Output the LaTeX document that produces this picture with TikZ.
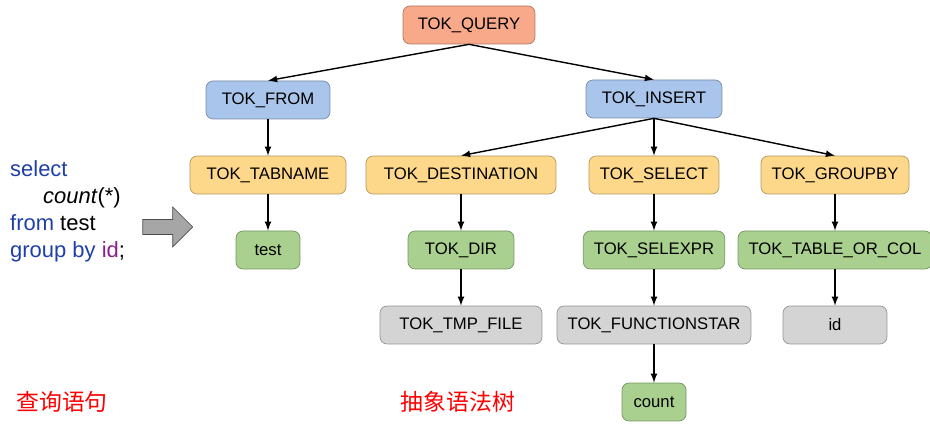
\documentclass[tikz,border=0pt]{standalone}
\usepackage{fontspec}
\setmainfont{Liberation Sans}
\newfontfamily\cjk{Noto Sans CJK SC}
\usetikzlibrary{shapes,arrows,positioning,calc}

\definecolor{qorange}{HTML}{F7A98A}
\definecolor{qblue}{HTML}{A9C5EB}
\definecolor{qyellow}{HTML}{FDD88A}
\definecolor{qgreen}{HTML}{A9D08E}
\definecolor{qgray}{HTML}{D4D4D4}
\definecolor{kwblue}{HTML}{1F3FA8}
\definecolor{kwpurple}{HTML}{8B1E8B}

\tikzset{
    tok/.style={draw=#1!70!black, fill=#1, rounded corners=4pt, minimum height=0.76cm,
        inner xsep=6pt, font=\fontsize{9.5}{11}\selectfont},
    link/.style={->, >=latex, thick, black}
}

\begin{document}
\begin{tikzpicture}[x=0.02cm, y=-0.02cm]
    \useasboundingbox (0,0) rectangle (930,428);

    % root
    \node[tok=qorange, minimum width=2.64cm] (query) at (469,25) {TOK\_QUERY};

    % level 1
    \node[tok=qblue, minimum width=2.48cm] (from) at (268,100) {TOK\_FROM};
    \node[tok=qblue, minimum width=2.72cm] (insert) at (654,99) {TOK\_INSERT};

    % level 2
    \node[tok=qyellow, minimum width=3.12cm] (tabname) at (268,175) {TOK\_TABNAME};
    \node[tok=qyellow, minimum width=3.8cm] (dest) at (461,175) {TOK\_DESTINATION};
    \node[tok=qyellow, minimum width=2.6cm] (select) at (654,175) {TOK\_SELECT};
    \node[tok=qyellow, minimum width=2.96cm] (groupby) at (835,175) {TOK\_GROUPBY};

    % level 3
    \node[tok=qgreen, minimum width=1.28cm] (test) at (268,250) {test};
    \node[tok=qgreen, minimum width=2.12cm] (dir) at (461,250) {TOK\_DIR};
    \node[tok=qgreen, minimum width=2.8cm] (selexpr) at (654,250) {TOK\_SELEXPR};
    \node[tok=qgreen, minimum width=3.76cm] (tabcol) at (835,250) {TOK\_TABLE\_OR\_COL};

    % level 4
    \node[tok=qgray, minimum width=3.24cm] (tmpfile) at (461,325) {TOK\_TMP\_FILE};
    \node[tok=qgray, minimum width=3.8cm] (funcstar) at (654,325) {TOK\_FUNCTIONSTAR};
    \node[tok=qgray, minimum width=2.08cm] (id) at (835,325) {id};

    % level 5
    \node[tok=qgreen, minimum width=1.28cm] (count) at (654,402) {count};

    % edges
    \draw[link] (query.south) -- (from.north);
    \draw[link] (query.south) -- (insert.north);
    \draw[link] (from) -- (tabname);
    \draw[link] (tabname) -- (test);
    \draw[link] (insert.south) -- (dest.north);
    \draw[link] (insert) -- (select);
    \draw[link] (insert.south) -- (groupby.north);
    \draw[link] (dest) -- (dir);
    \draw[link] (dir) -- (tmpfile);
    \draw[link] (select) -- (selexpr);
    \draw[link] (selexpr) -- (funcstar);
    \draw[link] (funcstar) -- (count);
    \draw[link] (groupby) -- (tabcol);
    \draw[link] (tabcol) -- (id);

    % query text
    \node[anchor=north west, align=left, font=\fontsize{12.5}{15.5}\selectfont] (sql) at (4,154)
        {\textcolor{kwblue}{select}\\
         \hspace{1.5em}\textit{count}(*)\\
         \textcolor{kwblue}{from} test\\
         \textcolor{kwblue}{group by} \textcolor{kwpurple}{id};};

    % block arrow
    \node[single arrow, draw=black!70, fill=gray!70, minimum height=1cm, minimum width=0.8cm,
        single arrow head extend=2pt, inner sep=1pt] (bigarrow) at (164,227) {};

    % captions
    \node[red, font=\cjk\fontsize{13}{15}\selectfont] (cap1) at (62,402) {查询语句};
    \node[red, font=\cjk\fontsize{13}{15}\selectfont] (cap2) at (458,402) {抽象语法树};
\end{tikzpicture}
\end{document}
